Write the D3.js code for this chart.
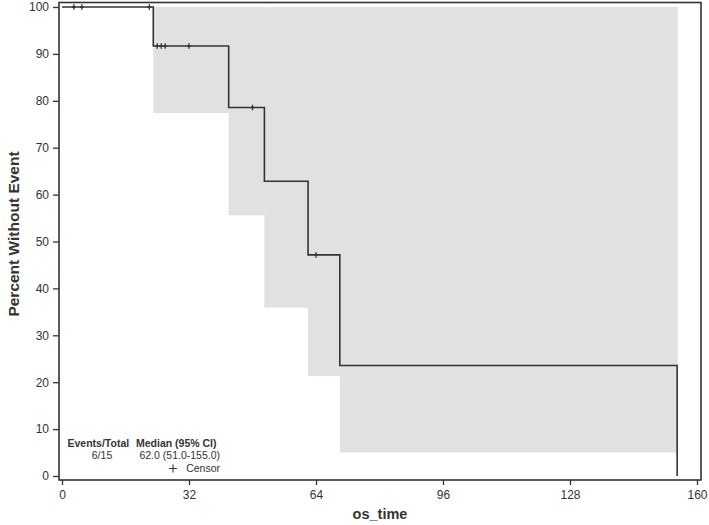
<!DOCTYPE html>
<html>
<head>
<meta charset="utf-8">
<script src="https://cdn.jsdelivr.net/npm/d3@7"></script>
<style>
  html, body { margin: 0; padding: 0; background: #fff; }
  svg { display: block; }
  text { font-family: "Liberation Sans", Arial, sans-serif; fill: #333; }
</style>
</head>
<body>
<svg id="chart" width="709" height="525"></svg>
<script>
// ---- data ----
const stepTimes = [0, 23, 42, 51, 62, 70, 155];
const stepSurvival = [100, 91.67, 78.57, 62.86, 47.14, 23.57, 0];
const ciStart = [23, 42, 51, 62, 70];
const ciEnd = [42, 51, 62, 70, 155];
const ciLower = [77.4, 55.6, 35.9, 21.3, 5.0];
const ciUpper = [100, 100, 100, 100, 100];
const censorTimes = [3, 5, 22, 24, 25, 26, 32, 48, 64];
const censorSurvival = [100, 100, 100, 91.67, 91.67, 91.67, 91.67, 78.57, 47.14];
const xTicks = [0, 32, 64, 96, 128, 160];
const yTicks = [0, 10, 20, 30, 40, 50, 60, 70, 80, 90, 100];
const legendHeaders = ["Events/Total", "Median (95% CI)"];
const legendValues = ["6/15", "62.0 (51.0-155.0)"];
const censorLabel = "Censor";
const xTitle = "os_time";
const yTitle = "Percent Without Event";

// ---- layout ----
const svg = d3.select("#chart");
const frame = {left: 59, right: 701, top: 2.5, bottom: 480};
const x = d3.scaleLinear().domain([0, 160]).range([62, 697]);
const y = d3.scaleLinear().domain([0, 100]).range([476, 7]);
const ink = "#333";

// CI band
const bandData = ciStart.map((s, i) => ({s, e: ciEnd[i], lo: ciLower[i], hi: ciUpper[i]}));
svg.append("g").selectAll("rect").data(bandData).join("rect")
  .attr("x", d => x(d.s))
  .attr("width", d => x(d.e) - x(d.s) + 0.5)
  .attr("y", d => y(d.hi))
  .attr("height", d => y(d.lo) - y(d.hi))
  .attr("fill", "#e1e1e1");

// step curve
const stepPts = stepTimes.map((t, i) => [t, stepSurvival[i]]);
const line = d3.line().x(d => x(d[0])).y(d => y(d[1])).curve(d3.curveStepAfter);
svg.append("path").datum(stepPts)
  .attr("d", line)
  .attr("fill", "none")
  .attr("stroke", ink)
  .attr("stroke-width", 1.6);

// censor marks
svg.append("g").selectAll("path").data(censorTimes.map((t, i) => [t, censorSurvival[i]])).join("path")
  .attr("d", d => `M${x(d[0])},${y(d[1]) - 2.8}V${y(d[1]) + 2.8}M${x(d[0]) - 2},${y(d[1])}H${x(d[0]) + 2}`)
  .attr("stroke", ink)
  .attr("stroke-width", 1.3);

// frame
svg.append("rect")
  .attr("x", frame.left).attr("y", frame.top)
  .attr("width", frame.right - frame.left)
  .attr("height", frame.bottom - frame.top)
  .attr("fill", "none").attr("stroke", ink).attr("stroke-width", 1.6);

// axes
const xAxis = svg.append("g").attr("transform", `translate(0,${frame.bottom})`)
  .call(d3.axisBottom(x).tickValues(xTicks).tickSize(5).tickPadding(5).tickFormat(d3.format("d")));
const yAxis = svg.append("g").attr("transform", `translate(${frame.left},0)`)
  .call(d3.axisLeft(y).tickValues(yTicks).tickSize(6).tickPadding(4).tickFormat(d3.format("d")));
[xAxis, yAxis].forEach(g => {
  g.select(".domain").remove();
  g.selectAll(".tick line").attr("stroke", ink).attr("stroke-width", 1.3);
  g.selectAll(".tick text").attr("font-size", 12).attr("fill", ink)
    .style("font-family", '"Liberation Sans", Arial, sans-serif');
});

// axis titles
svg.append("text").attr("x", 380).attr("y", 519)
  .attr("text-anchor", "middle").attr("font-size", 14.5).attr("font-weight", "bold")
  .text(xTitle);
svg.append("text").attr("transform", "translate(19,234) rotate(-90)")
  .attr("text-anchor", "middle").attr("font-size", 15.5).attr("font-weight", "bold")
  .text(yTitle);

// legend / inset table
const lg = svg.append("g").attr("font-size", 10.5);
lg.append("text").attr("x", 67.5).attr("y", 446.5).attr("font-weight", "bold").text(legendHeaders[0]);
lg.append("text").attr("x", 136).attr("y", 446.5).attr("font-weight", "bold").text(legendHeaders[1]);
lg.append("text").attr("x", 102).attr("y", 459).attr("text-anchor", "middle").text(legendValues[0]);
lg.append("text").attr("x", 220).attr("y", 459).attr("text-anchor", "end").text(legendValues[1]);
lg.append("text").attr("x", 220).attr("y", 471.5).attr("text-anchor", "end").text(censorLabel);
lg.append("path").attr("d", "M173,464.5V472.5M169,468.5H177")
  .attr("stroke", ink).attr("stroke-width", 1.1);
</script>
</body>
</html>
